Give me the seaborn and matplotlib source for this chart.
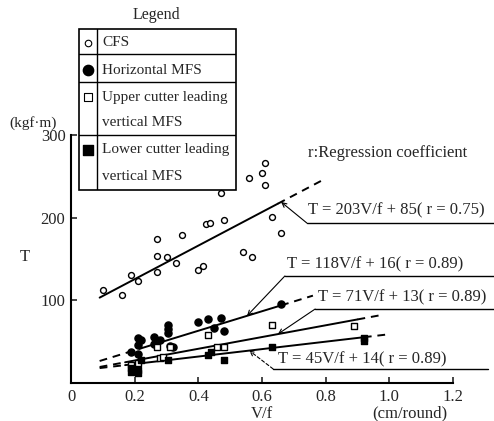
import numpy as np
import pandas as pd
import matplotlib
matplotlib.use("Agg")
import matplotlib.pyplot as plt
from matplotlib.patches import Rectangle
import seaborn as sns

# measured points (V/f in cm/round, T in kgf*m)
cfs_x = [0.10, 0.16, 0.19, 0.21, 0.27, 0.27, 0.30, 0.27, 0.33, 0.35, 0.40, 0.415,
         0.425, 0.437, 0.48, 0.47, 0.54, 0.57, 0.56, 0.60, 0.61, 0.61, 0.63, 0.66]
cfs_T = [113, 107, 131, 123, 134, 154, 153, 174, 145, 179, 137, 141,
         192, 194, 197, 230, 158, 153, 248, 254, 266, 239, 201, 182]

horiz_x = [0.19, 0.21, 0.21, 0.21, 0.22, 0.26, 0.26, 0.28, 0.305, 0.305, 0.305,
           0.31, 0.32, 0.40, 0.43, 0.47, 0.45, 0.48, 0.66]
horiz_T = [37, 35, 46, 55, 52, 56, 47, 52, 70, 65, 60,
           45, 44, 74, 77, 79, 67, 63, 96]

upper_x = [0.19, 0.21, 0.27, 0.28, 0.29, 0.31, 0.43, 0.46, 0.48, 0.63, 0.89]
upper_T = [22, 24, 43, 30, 31, 44, 58, 44, 44, 70, 69]

lower_x = [0.19, 0.21, 0.19, 0.21, 0.22, 0.305, 0.43, 0.44, 0.48, 0.63, 0.92, 0.92]
lower_T = [18, 16, 13, 12, 28, 28, 34, 37, 28, 43, 55, 51]

# regression lines: slope, intercept, segment breaks (dashed / solid parts)
slopes = [203, 118, 71, 45]
intercepts = [85, 16, 13, 14]
segments = [
    [(0.09, 0.65, '-'), (0.65, 0.80, '--')],
    [(0.09, 0.22, '--'), (0.22, 0.66, '-'), (0.66, 0.76, '--')],
    [(0.09, 0.17, '--'), (0.17, 0.90, '-'), (0.90, 0.98, '--')],
    [(0.09, 0.17, '--'), (0.17, 0.92, '-'), (0.92, 1.00, '--')],
]
eq_labels = ['T = 203V/f + 85( r = 0.75)', 'T = 118V/f + 16( r = 0.89)',
             'T = 71V/f + 13( r = 0.89)', 'T = 45V/f + 14( r = 0.89)']
arrow_at = [0.66, 0.553, 0.65, 0.56]
label_pos = [(0.745, 209), (0.679, 143), (0.776, 104), (0.65, 28)]
underline = [(0.741, 1.33, 193.5), (0.672, 1.33, 129.5), (0.767, 1.33, 89.5), (0.635, 1.31, 17)]

legend_labels = ['CFS', 'Horizontal MFS', 'Upper cutter leading', 'vertical MFS',
                 'Lower cutter leading', 'vertical MFS']

sns.set_style("ticks")
plt.rcParams['font.family'] = ['Liberation Serif', 'DejaVu Serif']

fig = plt.figure(figsize=(4.94, 4.21), dpi=100)
ax = fig.add_axes([71 / 494, 38 / 421, 382 / 494, 248 / 421])

groups = [
    (cfs_x, cfs_T, 'o', 'white', 18),
    (horiz_x, horiz_T, 'o', 'black', 26),
    (upper_x, upper_T, 's', 'white', 16),
    (lower_x, lower_T, 's', 'black', 20),
]
for gx, gy, mk, fc, sz in groups:
    df = pd.DataFrame({'V/f': gx, 'T': gy})
    sns.scatterplot(data=df, x='V/f', y='T', marker=mk, color=fc, edgecolor='black',
                    s=sz, linewidth=1.0, ax=ax, zorder=3)

for a, b, segs in zip(slopes, intercepts, segments):
    for x0, x1, ls in segs:
        xs = np.array([x0, x1])
        if ls == '--':
            ax.plot(xs, a * xs + b, color='black', lw=1.4, ls=(0, (4, 3)), zorder=2)
        else:
            ax.plot(xs, a * xs + b, color='black', lw=1.4, zorder=2)

for i in range(4):
    xa = arrow_at[i]
    ya = slopes[i] * xa + intercepts[i]
    u0, u1, uy = underline[i]
    ax.plot([u0, u1], [uy, uy], color='black', lw=1.0, clip_on=False)
    ls = (0, (3, 2)) if i == 3 else '-'
    ax.annotate('', xy=(xa, ya), xytext=(u0, uy),
                arrowprops=dict(arrowstyle='->', color='black', lw=0.8, linestyle=ls,
                                shrinkA=0, shrinkB=0, mutation_scale=8),
                annotation_clip=False)
    ax.text(label_pos[i][0], label_pos[i][1], eq_labels[i], fontsize=12,
            ha='left', va='center', clip_on=False)

ax.text(0.745, 278, 'r:Regression coefficient', fontsize=12, ha='left', va='center',
        clip_on=False)

ax.set_xlim(0, 1.2)
ax.set_ylim(0, 300)
ax.set_xticks([0, 0.2, 0.4, 0.6, 0.8, 1.0, 1.2])
ax.set_xticklabels(['0', '0.2', '0.4', '0.6', '0.8', '1.0', '1.2'], fontsize=12)
ax.set_yticks([100, 200, 300])
ax.set_yticklabels(['100', '200', '300'], fontsize=12)
ax.tick_params(direction='in', length=4, width=1.2, pad=4)
ax.set_xlabel('')
ax.set_ylabel('')
sns.despine(ax=ax)
for s in ['left', 'bottom']:
    ax.spines[s].set_linewidth(1.5)
    ax.spines[s].set_color('black')

fig.text(25 / 494, 1 - 257 / 421, 'T', fontsize=12, ha='center', va='center')
fig.text(33 / 494, 1 - 123 / 421, '(kgf·m)', fontsize=11, ha='center', va='center')
fig.text(262 / 494, 1 - 414 / 421, 'V/f', fontsize=12, ha='center', va='center')
fig.text(410 / 494, 1 - 413 / 421, '(cm/round)', fontsize=12, ha='center', va='center')
fig.text(156 / 494, 1 - 15 / 421, 'Legend', fontsize=11.5, ha='center', va='center')

# legend drawn as a ruled table in pixel units
lax = fig.add_axes([79 / 494, 1 - 190 / 421, 157 / 494, 161 / 421])
lax.set_xlim(0, 157)
lax.set_ylim(161, 0)
lax.axis('off')
lax.add_patch(Rectangle((0, 0), 157, 161, fill=False, lw=1.2, ec='black', clip_on=False))
lax.plot([18, 18], [0, 161], color='black', lw=1.0)
for yy in [25, 53, 106]:
    lax.plot([0, 157], [yy, yy], color='black', lw=1.0)
row_y = [14, 41, 68, 94, 121, 148]
for yy, lab in zip(row_y, legend_labels):
    lax.text(23, yy, lab, fontsize=11, ha='left', va='center')
lax.scatter([9], [14], marker='o', s=22, facecolor='white', edgecolor='black', lw=0.8)
lax.scatter([9], [41], marker='o', s=55, color='black')
lax.scatter([9], [68], marker='s', s=30, facecolor='white', edgecolor='black', lw=0.8)
lax.scatter([9], [121], marker='s', s=45, color='black')

fig.savefig('out.png', dpi=100)
